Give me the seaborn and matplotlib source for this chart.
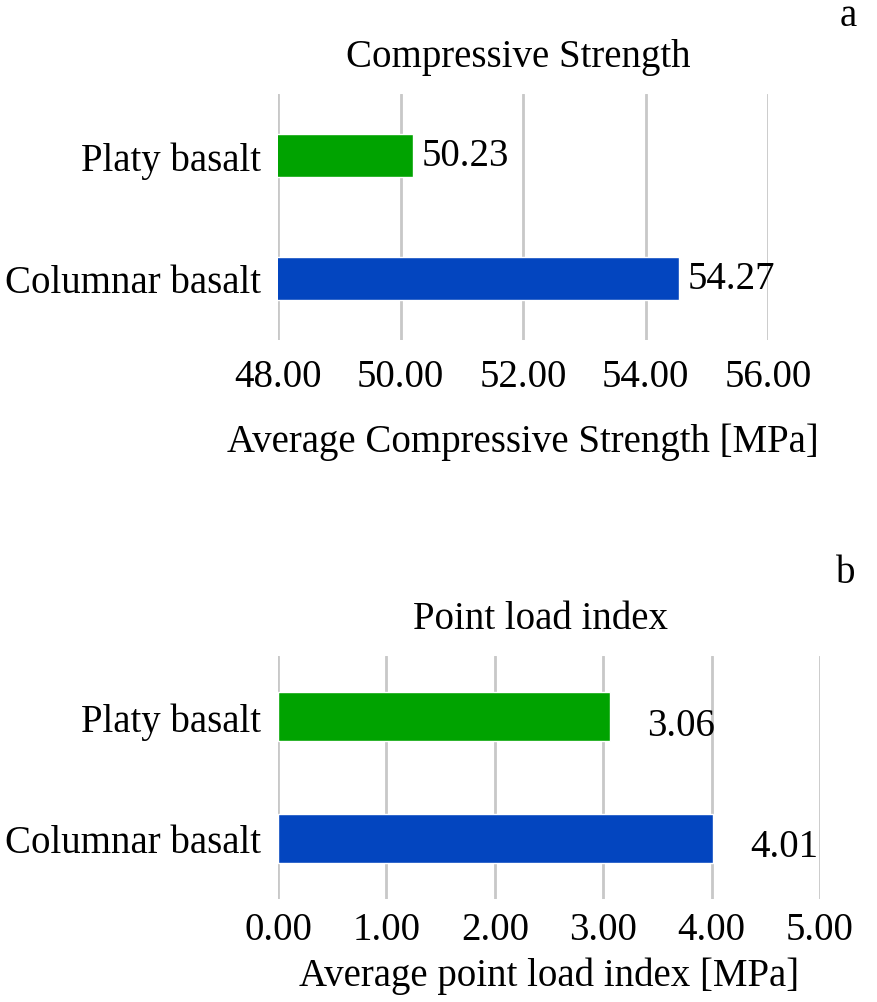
import matplotlib
matplotlib.use("Agg")
import matplotlib.pyplot as plt
import seaborn as sns

categories = ["Platy basalt", "Columnar basalt"]
cs_values = [50.21, 54.55]
cs_labels = ["50.23", "54.27"]
cs_ticks = [48, 50, 52, 54, 56]
pl_values = [3.06, 4.01]
pl_labels = ["3.06", "4.01"]
pl_ticks = [0, 1, 2, 3, 4, 5]
colors = ["#00A300", "#0345BF"]

sns.set_theme(style="white")
plt.rcParams["font.family"] = ["Liberation Serif", "DejaVu Serif"]
plt.rcParams["text.color"] = "black"
plt.rcParams["axes.labelcolor"] = "black"
plt.rcParams["xtick.color"] = "black"
plt.rcParams["ytick.color"] = "black"
FS = 28

fig = plt.figure(figsize=(8.77, 10.03), dpi=100)
W, H = 877, 1003

def axes_px(left, right, top, bottom):
    return fig.add_axes([left / W, 1 - bottom / H, (right - left) / W, (bottom - top) / H])

def style(ax, ticks, xlabel, title, tickpad, labelpad, title_x):
    ax.set_xticks(ticks)
    ax.set_xticklabels([f"{t:.2f}" for t in ticks], fontsize=FS)
    ax.tick_params(axis="y", labelsize=FS, pad=12, length=0)
    ax.tick_params(axis="x", pad=tickpad, length=0)
    ax.grid(axis="x", color="#c8c8c8", linewidth=2)
    ax.grid(axis="y", visible=False)
    ax.set_axisbelow(True)
    for s in ax.spines.values():
        s.set_visible(False)
    ax.set_ylabel("")
    ax.set_xlabel(xlabel, fontsize=FS, labelpad=labelpad)
    ax.set_title(title, fontsize=FS, pad=20, x=title_x)

# Panel a
ax1 = axes_px(278, 768, 95, 341)
sns.barplot(x=cs_values, y=categories, hue=categories, palette=colors,
            orient="h", width=0.35, legend=False, ax=ax1, saturation=1)
ax1.set_xlim(48, 56)
style(ax1, cs_ticks, "Average Compressive Strength [MPa]", "Compressive Strength",
      13, 20, 0.49)
for i, (v, lab) in enumerate(zip(cs_values, cs_labels)):
    ax1.annotate(lab, xy=(v, i), xytext=(6, 0), textcoords="offset points",
                 va="center", ha="left", fontsize=FS)

# Panel b
ax2 = axes_px(278, 820, 657, 900)
sns.barplot(x=pl_values, y=categories, hue=categories, palette=colors,
            orient="h", width=0.4, legend=False, ax=ax2, saturation=1)
ax2.set_xlim(0, 5)
style(ax2, pl_ticks, "Average point load index [MPa]", "Point load index",
      9, 6, 0.485)
for i, (v, lab) in enumerate(zip(pl_values, pl_labels)):
    ax2.annotate(lab, xy=(v, i), xytext=(27, -6), textcoords="offset points",
                 va="center", ha="left", fontsize=FS)

fig.text(848 / W, 1 - 26 / H, "a", fontsize=FS, ha="center", va="baseline")
fig.text(846 / W, 1 - 583 / H, "b", fontsize=FS, ha="center", va="baseline")

fig.savefig("out.png", dpi=100)
